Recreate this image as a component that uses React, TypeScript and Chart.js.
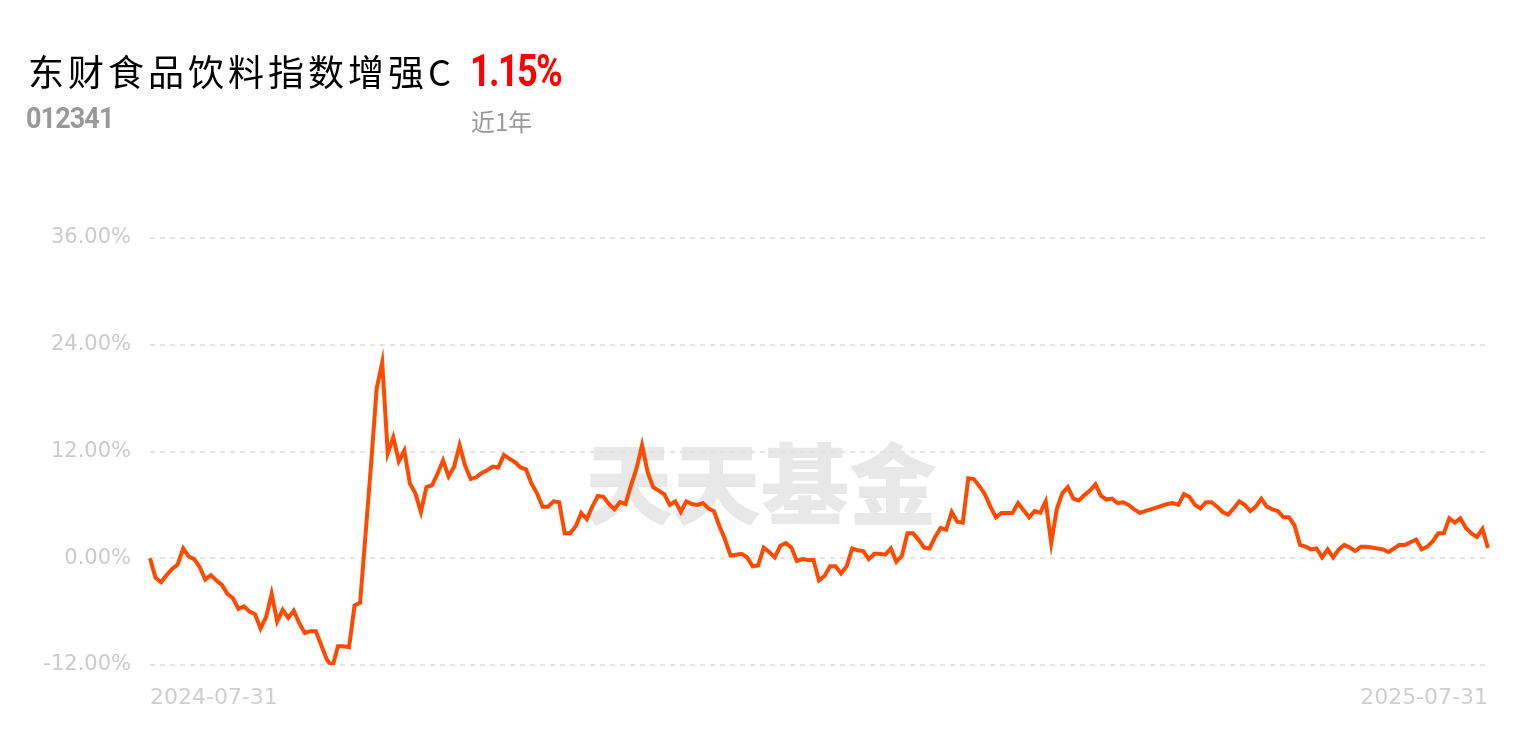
import React, { useEffect, useRef } from "react";
import { Chart, registerables } from "chart.js";

Chart.register(...registerables);

const fundName = "东财食品饮料指数增强C";
const fundCode = "012341";
const periodReturn = "1.15%";
const periodLabel = "近1年";
const watermark = "天天基金";
const startDate = "2024-07-31";
const endDate = "2025-07-31";

const yTicks = [-12, 0, 12, 24, 36];

const seg1 = [0.0, -2.2, -2.7, -1.9, -1.2, -0.7, 1.1, 0.2, -0.1, -1.0, -2.4, -1.9, -2.5, -3.0, -4.0, -4.5, -5.7, -5.4, -6.0, -6.3, -7.9, -6.6, -4.0, -7.1, -5.8, -6.7, -5.9, -7.3, -8.4, -8.2, -8.2, -9.8, -11.4, -12.2, -9.9, -9.9, -10.0, -5.3, -5.0, 2.8, 10.7, 19.1, 22.0, 11.8, 13.6, 10.9, 12.1, 8.4, 7.3, 5.2, 8.0, 8.2];
const seg2 = [9.5, 11.0, 9.2, 10.3, 12.7, 10.4, 8.9, 9.1, 9.6, 9.9, 10.3, 10.2, 11.6, 11.2, 10.8, 10.2, 10.0, 8.4, 7.3, 5.8, 5.8, 6.4, 6.3, 2.8, 2.8, 3.6, 5.1, 4.4, 5.8, 7.0, 6.9, 6.1, 5.5, 6.3, 6.1, 8.2, 10.1, 12.7, 9.7, 8.0, 7.6, 7.2, 6.0, 6.4, 5.2, 6.4, 6.1, 6.0, 6.2, 5.6, 5.3, 3.6, 2.1, 0.3, 0.4, 0.5, 0.1, -0.9, -0.8, 1.2, 0.7, 0.1, 1.4];
const seg3 = [1.7, 1.2, -0.3, -0.1, -0.2, -0.2, -2.5, -2.0, -0.9, -0.9, -1.7, -0.9, 1.1, 0.9, 0.8, -0.1, 0.5, 0.5, 0.4, 1.1, -0.4, 0.3, 2.8, 2.8, 2.1, 1.2, 1.1, 2.4, 3.4, 3.2, 5.2, 4.1, 4.0, 9.0, 8.9, 8.1, 7.2, 5.8, 4.6, 5.1, 5.1, 5.1, 6.2, 5.4, 4.6, 5.3, 5.1, 6.4, 1.7, 5.5, 7.3, 8.0, 6.7, 6.5, 7.1, 7.6, 8.3, 7.0, 6.6, 6.7, 6.2, 6.3, 6.0, 5.5, 5.1, 5.3, 5.5];
const seg4 = [5.7, 5.9, 6.1, 6.2, 6.0, 7.2, 6.9, 6.0, 5.6, 6.3, 6.3, 5.8, 5.2, 4.9, 5.6, 6.4, 6.0, 5.3, 5.8, 6.7, 5.8, 5.5, 5.3, 4.6, 4.6, 3.7, 1.5, 1.3, 1.0, 1.1, 0.1, 1.0, 0.1, 1.0, 1.5, 1.2, 0.8, 1.3, 1.3, 1.2, 1.1, 1.0, 0.7, 1.1, 1.5, 1.5, 1.8, 2.1, 1.0, 1.3, 1.9, 2.8, 2.8, 4.5, 4.0, 4.5, 3.4, 2.8, 2.4, 3.3, 1.15];

const returns = [...seg1, ...seg2, ...seg3, ...seg4];
const labels = returns.map((_, i) => (i === 0 ? startDate : i === returns.length - 1 ? endDate : ""));

const watermarkPlugin = {
  id: "watermark",
  beforeDraw(chart: any) {
    const { ctx } = chart;
    ctx.save();
    ctx.font = "900 88px 'Noto Sans CJK SC'";
    ctx.fillStyle = "#e8e8e8";
    ctx.textAlign = "center";
    ctx.textBaseline = "middle";
    ctx.fillText(watermark, 761, 484);
    ctx.restore();
  },
};

export default function App() {
  const ref = useRef<HTMLCanvasElement>(null);
  useEffect(() => {
    document.body.style.margin = "0";
    const chart = new Chart(ref.current!, {
      type: "line",
      data: {
        labels,
        datasets: [
          {
            data: returns,
            borderColor: "#ff4a00",
            borderWidth: 4,
            pointRadius: 0,
            tension: 0,
            fill: false,
          },
        ],
      },
      options: {
        animation: false,
        responsive: false,
        maintainAspectRatio: false,
        layout: { padding: { top: 238, right: 37, bottom: 0, left: 0 } },
        plugins: { legend: { display: false }, tooltip: { enabled: false } },
        scales: {
          x: {
            type: "category",
            offset: false,
            grid: { display: false },
            border: { display: false },
            afterFit: (s: any) => {
              s.height = 65;
            },
            ticks: {
              autoSkip: false,
              maxRotation: 0,
              minRotation: 0,
              align: "inner",
              padding: 12,
              color: "#cfcfcf",
              font: { family: "'DejaVu Sans'", size: 22 },
              callback: (_v: any, i: number) => labels[i] || null,
            },
          },
          y: {
            min: -12,
            max: 36,
            afterFit: (s: any) => {
              s.width = 150;
            },
            afterBuildTicks: (s: any) => {
              s.ticks = yTicks.map((v) => ({ value: v }));
            },
            border: { display: false, dash: [5, 5] },
            grid: { color: "#e4e4e4", lineWidth: 2, drawTicks: false },
            ticks: {
              padding: 19,
              color: "#cbcbcb",
              font: { family: "'DejaVu Sans'", size: 21 },
              callback: (v: any) => Number(v).toFixed(2) + "%",
            },
          },
        },
      },
      plugins: [watermarkPlugin],
    } as any);
    return () => chart.destroy();
  }, []);

  return (
    <div style={{ position: "relative", width: 1525, height: 730, background: "#fff", overflow: "hidden" }}>
      <canvas ref={ref} width={1525} height={730} style={{ position: "absolute", left: 0, top: 0 }} />
      <div
        style={{
          position: "absolute",
          left: 28,
          top: 50,
          fontFamily: "'Noto Sans CJK SC'",
          fontSize: 36,
          lineHeight: "40px",
          letterSpacing: 4,
          color: "#000",
          whiteSpace: "nowrap",
        }}
      >
        {fundName}
      </div>
      <div
        style={{
          position: "absolute",
          left: 470,
          top: 49,
          fontFamily: "Roboto, 'Liberation Sans'",
          fontWeight: 700,
          fontSize: 44,
          lineHeight: "44px",
          letterSpacing: -2,
          color: "#ff0000",
          transform: "scaleX(0.82)",
          transformOrigin: "left center",
          whiteSpace: "nowrap",
        }}
      >
        {periodReturn}
      </div>
      <div
        style={{
          position: "absolute",
          left: 26,
          top: 103,
          fontFamily: "Roboto, 'Liberation Sans'",
          fontWeight: 700,
          fontSize: 30,
          lineHeight: "30px",
          letterSpacing: -1,
          color: "#999",
          transform: "scaleX(0.9)",
          transformOrigin: "left center",
          whiteSpace: "nowrap",
        }}
      >
        {fundCode}
      </div>
      <div
        style={{
          position: "absolute",
          left: 471,
          top: 106,
          fontFamily: "'Noto Sans CJK SC'",
          fontSize: 24,
          lineHeight: "30px",
          color: "#999",
          whiteSpace: "nowrap",
        }}
      >
        {periodLabel}
      </div>
    </div>
  );
}
